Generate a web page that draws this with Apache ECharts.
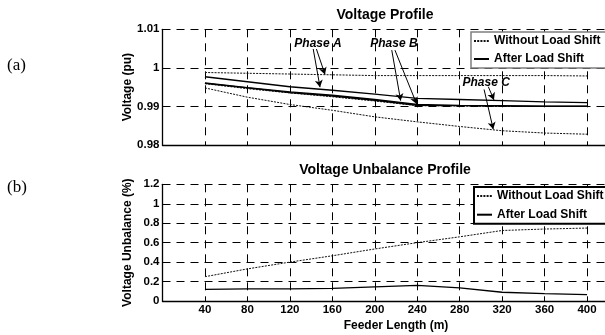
<!DOCTYPE html>
<html>
<head>
<meta charset="utf-8">
<script src="https://cdn.jsdelivr.net/npm/echarts@6/dist/echarts.min.js"></script>
<style>
  html, body { margin: 0; padding: 0; background: #fff; }
  #chart { width: 605px; height: 335px; }
</style>
</head>
<body>
<div id="chart"></div>
<script>
// feeder positions (m)
const feederLength = [40, 80, 120, 160, 200, 240, 280, 320, 360, 400]

// voltage profile (pu), without load shift
const phaseAWithout = [0.9988, 0.9986, 0.9984, 0.9982, 0.9980, 0.9980, 0.9980, 0.9980, 0.9980, 0.9979]
const phaseBWithout = [0.9959, 0.9946, 0.9935, 0.9925, 0.9914, 0.9902, 0.9901, 0.9900, 0.9900, 0.9900]
const phaseCWithout = [0.9948, 0.9924, 0.9905, 0.9890, 0.9873, 0.9860, 0.9848, 0.9837, 0.9831, 0.9828]

// voltage profile (pu), after load shift
const phaseAAfter = [0.9977, 0.9964, 0.9951, 0.9942, 0.9932, 0.9921, 0.9918, 0.9915, 0.9912, 0.9910]
const phaseBAfter = [0.9961, 0.9949, 0.9938, 0.9929, 0.9918, 0.9905, 0.9903, 0.9902, 0.9901, 0.9901]
const phaseCAfter = [0.9960, 0.9948, 0.9936, 0.9927, 0.9916, 0.9903, 0.9902, 0.9901, 0.9900, 0.9900]

// voltage unbalance (%)
const unbalanceWithout = [0.25, 0.33, 0.40, 0.465, 0.535, 0.60, 0.66, 0.725, 0.74, 0.75]
const unbalanceAfter = [0.12, 0.125, 0.125, 0.13, 0.145, 0.16, 0.135, 0.09, 0.075, 0.065]

// annotations (data coords)
const phaseLabels = [
  { text: 'Phase A', coord: [146.5, 1.0062] },
  { text: 'Phase B', coord: [218, 1.0062] },
  { text: 'Phase C', coord: [305, 0.9961] }
]
const arrows = [
  [[142, 1.0049], [148.4, 0.9950]],
  [[145, 1.0049], [153.1, 0.9983]],
  [[216, 1.0046], [224.4, 0.9915]],
  [[219, 1.0046], [239.5, 0.9906]],
  [[303, 0.9944], [311.6, 0.9841]],
  [[307, 0.9951], [312.3, 0.9917]]
]

const font = 'Liberation Sans, Arial, sans-serif'
const WITHOUT = 'Without Load Shift'
const AFTER = 'After Load Shift'

const pair = (ys) => feederLength.map((x, i) => [x, ys[i]])

const dottedStyle = { color: '#111', width: 1, type: [2, 1.2] }
const solidStyle = { color: '#000', width: 1.3 }

function lineSeries(name, ys, style, idx, extra) {
  return Object.assign({
    name: name,
    type: 'line',
    xAxisIndex: idx,
    yAxisIndex: idx,
    data: pair(ys),
    symbol: 'none',
    lineStyle: style,
    itemStyle: { color: style.color },
    silent: true,
    z: 3
  }, extra || {})
}

function xAxisFor(idx, showLabels) {
  return {
    gridIndex: idx,
    type: 'value',
    min: 0,
    max: 440,
    interval: 40,
    axisLine: { show: true, lineStyle: { color: '#000', width: 1.3 } },
    axisTick: { show: false },
    axisLabel: {
      show: showLabels,
      margin: 3,
      color: '#000',
      fontFamily: font,
      fontWeight: 'bold',
      fontSize: 11.5,
      formatter: (v) => (v >= 40 && v <= 400 ? String(v) : '')
    },
    splitLine: { show: true, lineStyle: { color: '#000', width: 1, type: [8, 6] } }
  }
}

function yAxisFor(idx, min, max, interval, name) {
  return {
    gridIndex: idx,
    type: 'value',
    min: min,
    max: max,
    interval: interval,
    name: name,
    nameLocation: 'middle',
    nameGap: 28.5,
    nameMoveOverlap: false,
    nameTextStyle: { color: '#000', fontFamily: font, fontWeight: 'bold', fontSize: 12 },
    axisLine: { show: true, lineStyle: { color: '#000', width: 1.3 } },
    axisTick: { show: false },
    axisLabel: { margin: 3, color: '#000', fontFamily: font, fontWeight: 'bold', fontSize: 11.5 },
    splitLine: { show: true, lineStyle: { color: '#000', width: 1, type: [8, 6] } }
  }
}

function legendFor(top, left, border, gap) {
  return {
    orient: 'vertical',
    left: left,
    top: top,
    data: [WITHOUT, AFTER],
    itemWidth: 15,
    itemHeight: 10,
    itemGap: gap,
    padding: [3, 6, 3, 2],
    backgroundColor: '#fff',
    borderColor: border.color,
    borderWidth: border.width,
    borderRadius: 0,
    selectedMode: false,
    itemStyle: { opacity: 0 },
    textStyle: { color: '#000', fontFamily: font, fontWeight: 'bold', fontSize: 12 }
  }
}

const chart = echarts.init(document.getElementById('chart'), null, { renderer: 'canvas' })

const option = {
  animation: false,
  backgroundColor: '#fff',
  grid: [
    { left: 162.5, top: 29.3, width: 467, height: 115.7, outerBoundsMode: 'none' },
    { left: 162.5, top: 184.3, width: 467, height: 116.7, outerBoundsMode: 'none' }
  ],
  xAxis: [xAxisFor(0, false), Object.assign(xAxisFor(1, true), {
    name: 'Feeder Length (m)',
    nameLocation: 'middle',
    nameGap: 19,
    nameMoveOverlap: false,
    nameTextStyle: { color: '#000', fontFamily: font, fontWeight: 'bold', fontSize: 12 }
  })],
  yAxis: [
    yAxisFor(0, 0.98, 1.01, 0.01, 'Voltage (pu)'),
    yAxisFor(1, 0, 1.2, 0.2, 'Voltage Unbalance (%)')
  ],
  legend: [
    legendFor(32, 471, { color: '#7f7f7f', width: 1.5 }, 6),
    legendFor(187, 474, { color: '#000', width: 2 }, 6.7)
  ],
  graphic: [
    { type: 'text', left: 7, top: 57, style: { text: '(a)', font: '17px "Liberation Serif", serif', fill: '#000' } },
    { type: 'text', left: 7, top: 179, style: { text: '(b)', font: '17px "Liberation Serif", serif', fill: '#000' } },
    { type: 'text', x: 385, y: 15.5, style: { text: 'Voltage Profile', font: 'bold 14px "Liberation Sans", Arial, sans-serif', fill: '#000', align: 'center', verticalAlign: 'middle' } },
    { type: 'text', x: 385, y: 170.5, style: { text: 'Voltage Unbalance Profile', font: 'bold 14px "Liberation Sans", Arial, sans-serif', fill: '#000', align: 'center', verticalAlign: 'middle' } }
  ],
  series: [
    lineSeries(WITHOUT, phaseAWithout, dottedStyle, 0),
    lineSeries(WITHOUT, phaseBWithout, dottedStyle, 0),
    lineSeries(WITHOUT, phaseCWithout, dottedStyle, 0),
    lineSeries(AFTER, phaseAAfter, solidStyle, 0),
    lineSeries(AFTER, phaseBAfter, solidStyle, 0),
    lineSeries(AFTER, phaseCAfter, solidStyle, 0, {
      markLine: {
        silent: true,
        symbol: ['none', 'arrow'],
        symbolSize: [6, 7],
        lineStyle: { color: '#000', width: 1, type: 'solid' },
        label: { show: false },
        data: arrows.map((a) => [{ coord: a[0] }, { coord: a[1] }])
      },
      markPoint: {
        silent: true,
        symbol: 'circle',
        symbolSize: 0,
        label: {
          show: true,
          position: 'inside',
          color: '#000',
          fontFamily: font,
          fontWeight: 'bold',
          fontStyle: 'italic',
          fontSize: 12,
          formatter: (p) => p.name
        },
        data: phaseLabels.map((l) => ({ name: l.text, coord: l.coord }))
      }
    }),
    lineSeries(WITHOUT, unbalanceWithout, dottedStyle, 1),
    lineSeries(AFTER, unbalanceAfter, solidStyle, 1)
  ]
}

chart.setOption(option)
</script>
</body>
</html>
